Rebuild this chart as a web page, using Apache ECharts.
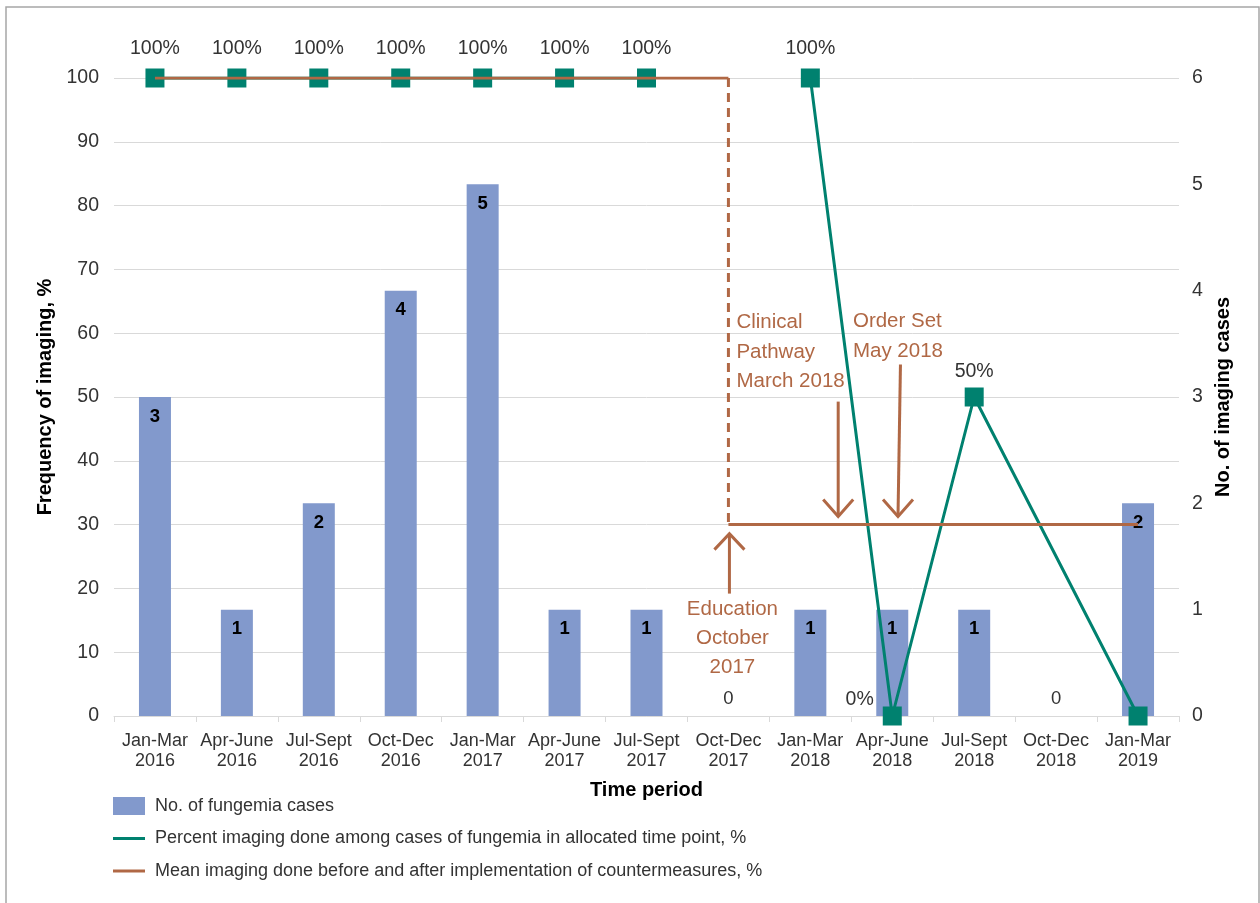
<!DOCTYPE html>
<html><head><meta charset="utf-8">
<script src="https://cdn.jsdelivr.net/npm/echarts@6/dist/echarts.min.js"></script>
<style>html,body{margin:0;padding:0;background:#fff}#c{width:1260px;height:903px}</style>
</head><body><div id="c"></div>
<script>
const categories = ['Jan-Mar\n2016','Apr-June\n2016','Jul-Sept\n2016','Oct-Dec\n2016','Jan-Mar\n2017','Apr-June\n2017','Jul-Sept\n2017','Oct-Dec\n2017','Jan-Mar\n2018','Apr-June\n2018','Jul-Sept\n2018','Oct-Dec\n2018','Jan-Mar\n2019'];
const fungemiaCases = [3,1,2,4,5,1,1,0,1,1,1,0,2];
const percentImaging = [100,100,100,100,100,100,100,null,100,0,50,null,0];
const meanBefore = 100;
const meanAfter = 30;
const changeIndex = 7;
const leftAxis = {min:0, max:100, interval:10};
const rightAxis = {min:0, max:6, interval:1};
const seriesNames = ['No. of fungemia cases','Percent imaging done among cases of fungemia in allocated time point, %','Mean imaging done before and after implementation of countermeasures, %'];

const FONT = "'Liberation Sans', Arial, sans-serif";
const BAR = '#8299CC', GREEN = '#00816F', BROWN = '#B06845', TXT = '#333333';

const chart = echarts.init(document.getElementById('c'));

const barData = fungemiaCases.map(v => v === 0
  ? {value: v, label: {show: true, position: 'top', distance: 8, fontWeight: 'normal', color: TXT, formatter: '0'}}
  : {value: v});

const greenLabel = (v, i) => {
  if (v === 50) return {show: true, position: 'top', distance: 6, formatter: '{c}%'};
  if (v === 0 && i === 9) return {show: true, position: 'left', distance: 9, offset: [0, -16], formatter: '{c}%'};
  if (v === 100) return {show: true, position: 'top', distance: 10, formatter: '{c}%'};
  return {show: false};
};
const greenA = percentImaging.map((v, i) => (i < changeIndex && v !== null) ? {value: v, label: greenLabel(v, i)} : '-');
const greenB = percentImaging.map((v, i) => (i > changeIndex && v !== null) ? {value: v, label: greenLabel(v, i)} : '-');
const brownBefore = categories.map((_, i) => i <= changeIndex ? meanBefore : '-');
const brownAfter = categories.map((_, i) => i >= changeIndex
  ? (i === changeIndex ? {value: meanAfter, label: {show: true, position: 'left', distance: 11, offset: [0, -11], formatter: meanAfter + '%'}} : meanAfter)
  : '-');

chart.setOption({
  animation: false,
  textStyle: {fontFamily: FONT},
  grid: {left: 114, right: 81, top: 78, bottom: 187},
  legend: {
    orient: 'vertical', left: 108, top: 792, itemWidth: 32, itemHeight: 18, itemGap: 14.5,
    textStyle: {fontSize: 18, color: TXT, fontFamily: FONT, padding: [0, 0, 0, 5]},
    data: [
      {name: seriesNames[0], icon: 'rect'},
      {name: seriesNames[1], icon: 'path://M0,0H32V3H0Z'},
      {name: seriesNames[2], icon: 'path://M0,0H32V3H0Z'}
    ]
  },
  xAxis: {
    type: 'category', data: categories, boundaryGap: true,
    name: 'Time period', nameLocation: 'middle', nameGap: 64,
    nameTextStyle: {fontSize: 20, fontWeight: 'bold', color: '#000', fontFamily: FONT},
    axisLine: {lineStyle: {color: '#d9d9d9', width: 1}},
    axisTick: {show: true, length: 6, lineStyle: {color: '#d9d9d9'}},
    axisLabel: {fontSize: 18, color: TXT, lineHeight: 20, margin: 15, interval: 0, fontFamily: FONT}
  },
  yAxis: [
    {type: 'value', min: leftAxis.min, max: leftAxis.max, interval: leftAxis.interval,
     name: 'Frequency of imaging, %', nameLocation: 'middle', nameGap: 58, nameRotate: 90,
     nameTextStyle: {fontSize: 20, fontWeight: 'bold', color: '#000', fontFamily: FONT},
     axisLine: {show: false}, axisTick: {show: false},
     axisLabel: {fontSize: 19.5, color: TXT, margin: 15, fontFamily: FONT},
     splitLine: {lineStyle: {color: '#d9d9d9', width: 1}}},
    {type: 'value', min: rightAxis.min, max: rightAxis.max, interval: rightAxis.interval,
     name: 'No. of imaging cases', nameLocation: 'middle', nameGap: 33, nameRotate: 90,
     nameTextStyle: {fontSize: 20, fontWeight: 'bold', color: '#000', fontFamily: FONT},
     axisLine: {show: false}, axisTick: {show: false},
     axisLabel: {fontSize: 19.5, color: TXT, margin: 13, fontFamily: FONT},
     splitLine: {show: false}}
  ],
  series: [
    {name: seriesNames[0], type: 'bar', yAxisIndex: 1, data: barData, barWidth: 32, z: 2,
     itemStyle: {color: BAR},
     label: {show: true, position: 'insideTop', distance: 10, fontSize: 18.5, fontWeight: 'bold', color: '#000', fontFamily: FONT}},
    {name: seriesNames[1], type: 'line', data: greenA, symbol: 'rect', symbolSize: 19, z: 3,
     itemStyle: {color: GREEN}, lineStyle: {color: GREEN, width: 3},
     label: {fontSize: 19.5, color: TXT, fontFamily: FONT}},
    {name: seriesNames[1], type: 'line', data: greenB, symbol: 'rect', symbolSize: 19, z: 3, connectNulls: true,
     itemStyle: {color: GREEN}, lineStyle: {color: GREEN, width: 3},
     label: {fontSize: 19.5, color: TXT, fontFamily: FONT}},
    {name: seriesNames[2], type: 'line', data: brownBefore, symbol: 'none', z: 4,
     itemStyle: {color: BROWN}, lineStyle: {color: BROWN, width: 3}},
    {name: seriesNames[2], type: 'line', data: brownAfter, symbol: 'circle', symbolSize: 1, z: 4,
     itemStyle: {color: BROWN, opacity: 0}, lineStyle: {color: BROWN, width: 3},
     label: {fontSize: 19.5, color: TXT, fontFamily: FONT}},
    {name: seriesNames[2], type: 'line', data: [[changeIndex, meanBefore], [changeIndex, meanAfter]], symbol: 'none', z: 4,
     itemStyle: {color: BROWN}, lineStyle: {color: BROWN, width: 3, type: [9, 6]}}
  ]
});

// annotations anchored to data coordinates
const P = (i, v) => chart.convertToPixel({xAxisIndex: 0, yAxisIndex: 0}, [i, v]);
const band = P(1, 0)[0] - P(0, 0)[0];
const y30 = P(0, meanAfter)[1];
const xc = P(changeIndex, 0)[0];
const x8 = P(8, 0)[0];
const x9 = P(9, 0)[0];
const arrowStyle = {stroke: BROWN, lineWidth: 3, fill: null};
function arrowDown(xTail, yTail, xTip, yTip) {
  return [
    {type: 'polyline', shape: {points: [[xTail, yTail], [xTip, yTip]]}, style: arrowStyle, z: 10},
    {type: 'polyline', shape: {points: [[xTip - 15, yTip - 17], [xTip, yTip], [xTip + 15, yTip - 17]]}, style: arrowStyle, z: 10}
  ];
}
function arrowUp(xTail, yTail, xTip, yTip) {
  return [
    {type: 'polyline', shape: {points: [[xTail, yTail], [xTip, yTip]]}, style: arrowStyle, z: 10},
    {type: 'polyline', shape: {points: [[xTip - 15, yTip + 16], [xTip, yTip], [xTip + 15, yTip + 16]]}, style: arrowStyle, z: 10}
  ];
}
const annFont = '20.5px ' + FONT;
const graphics = [
  {type: 'rect', shape: {x: 6, y: 7, width: 1253, height: 920}, style: {stroke: '#a6a6a6', lineWidth: 1.5, fill: null}, silent: true, z: 0},
  {type: 'text', style: {text: 'Clinical\nPathway\nMarch 2018', x: xc + 8, y: 308, font: annFont, fill: BROWN, lineHeight: 29.5, textAlign: 'left', textVerticalAlign: 'top'}, z: 10},
  {type: 'text', style: {text: 'Order Set\nMay 2018', x: x8 + 0.52 * band, y: 307, font: annFont, fill: BROWN, lineHeight: 29.5, textAlign: 'left', textVerticalAlign: 'top'}, z: 10},
  {type: 'text', style: {text: 'Education\nOctober\n2017', x: xc + 4, y: y30 + 70, font: annFont, fill: BROWN, lineHeight: 29, textAlign: 'center', textVerticalAlign: 'top'}, z: 10}
].concat(
  arrowDown(x8 + 0.34 * band, y30 - 123, x8 + 0.34 * band, y30 - 8),
  arrowDown(x9 + 0.10 * band, y30 - 160, x9 + 0.07 * band, y30 - 8),
  arrowUp(xc + 1, y30 + 69, xc + 1, y30 + 9)
);
chart.setOption({graphic: graphics});
</script>
</body></html>
